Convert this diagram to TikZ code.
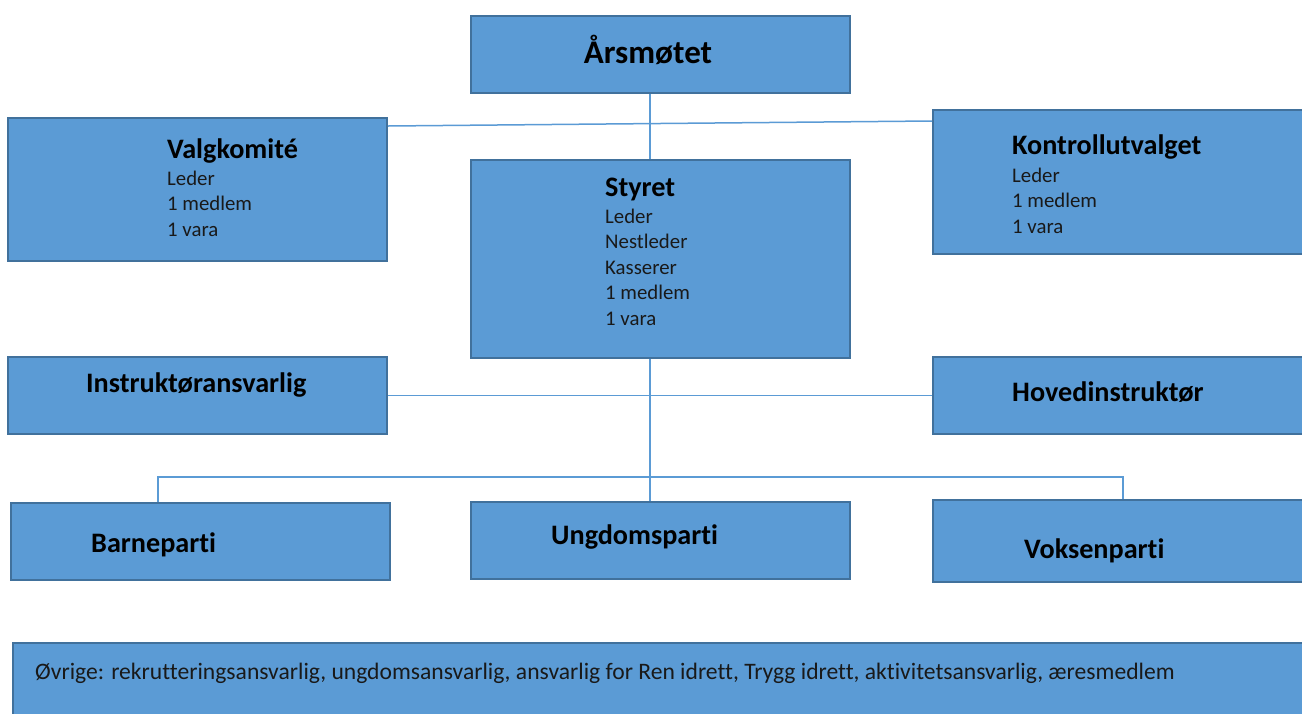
\documentclass[tikz,border=0pt]{standalone}
\usepackage{fontspec}
\setmainfont{Carlito}[Ligatures=NoCommon]
\usetikzlibrary{calc}
\definecolor{boxfill}{HTML}{5B9BD5}
\definecolor{boxline}{HTML}{41719C}
\definecolor{conn}{HTML}{5B9BD5}
\newcommand{\stacklines}[1]{\vtop{\baselineskip=25.5pt\lineskiplimit=-20pt #1}}
\begin{document}
\begin{tikzpicture}[x=1pt,y=-1pt,
  orgbox/.style={draw=boxline, line width=2pt, fill=boxfill, rectangle, anchor=north west, inner sep=0pt},
  bigtitle/.style={anchor=base, inner sep=0pt, font=\fontsize{33}{38}\selectfont\bfseries},
  boxtitle/.style={anchor=base west, inner sep=0pt, font=\fontsize{28.2}{33}\selectfont\bfseries},
  bodytext/.style={anchor=base west, inner sep=0pt, font=\fontsize{20.8}{25.5}\selectfont, text=black!90},
  notetext/.style={anchor=base west, inner sep=0pt, font=\fontsize{23.6}{28}\selectfont, text=black!90},
  link/.style={draw=conn, line width=1.5pt}]
\useasboundingbox (0,0) rectangle (1302,713);
\fill[white] (0,0) rectangle (1302,713);

% boxes
\node[orgbox, minimum width=379pt, minimum height=77pt]  (ars)      at (470,15)  {};
\node[orgbox, minimum width=379pt, minimum height=143pt] (valg)     at (7,117)   {};
\node[orgbox, minimum width=383pt, minimum height=144pt] (kontroll) at (932,109) {};
\node[orgbox, minimum width=379pt, minimum height=198pt] (styret)   at (470,159) {};
\node[orgbox, minimum width=379pt, minimum height=77pt]  (instr)    at (7,356)   {};
\node[orgbox, minimum width=383pt, minimum height=77pt]  (hoved)    at (932,356) {};
\node[orgbox, minimum width=379pt, minimum height=77pt]  (barne)    at (10,502)  {};
\node[orgbox, minimum width=379pt, minimum height=77pt]  (ungdom)   at (470,501) {};
\node[orgbox, minimum width=383pt, minimum height=82pt]  (voksen)   at (932,499) {};
\node[orgbox, minimum width=1303pt, minimum height=80pt] (ovrige)   at (12,642)  {};

% texts
\node[bigtitle] (tars) at (648,63) {Årsmøtet};
\node[boxtitle] (tvalg) at (167,158) {Valgkomité};
\node[bodytext] (bvalg) at (167,185) {\stacklines{\hbox{Leder}\hbox{1 medlem}\hbox{1 vara}}};
\node[boxtitle] (tstyret) at (605,196) {Styret};
\node[bodytext] (bstyret) at (605,223) {\stacklines{\hbox{Leder}\hbox{Nestleder}\hbox{Kasserer}\hbox{1 medlem}\hbox{1 vara}}};
\node[boxtitle] (tkontroll) at (1012,154) {Kontrollutvalget};
\node[bodytext] (bkontroll) at (1012,182) {\stacklines{\hbox{Leder}\hbox{1 medlem}\hbox{1 vara}}};
\node[boxtitle] (tinstr) at (86,392) {Instruktøransvarlig};
\node[boxtitle] (thoved) at (1012,401) {Hovedinstruktør};
\node[boxtitle] (tbarne) at (91,552) {Barneparti};
\node[boxtitle] (tungdom) at (551,544) {Ungdomsparti};
\node[boxtitle] (tvoksen) at (1024,558) {Voksenparti};
\node[notetext] (tovrige) at (35,679) {Øvrige: rekrutteringsansvarlig, ungdomsansvarlig, ansvarlig for Ren idrett, Trygg idrett, aktivitetsansvarlig, æresmedlem};

% connectors
\coordinate (spine) at (650,0);
\coordinate (busL) at (158,477);
\coordinate (busR) at (1123,477);
\draw[link] (spine |- ars.south) -- (spine |- styret.north);
\draw[link] ($(valg.north east)+(0,9)$) -- ($(kontroll.north west)+(0,12)$);
\draw[link] (instr.east) -- (hoved.west);
\draw[link] (spine |- styret.south) -- (spine |- ungdom.north);
\draw[link] (busL |- barne.north) -- (busL) -- (busR) -- (busR |- voksen.north);
\end{tikzpicture}
\end{document}
